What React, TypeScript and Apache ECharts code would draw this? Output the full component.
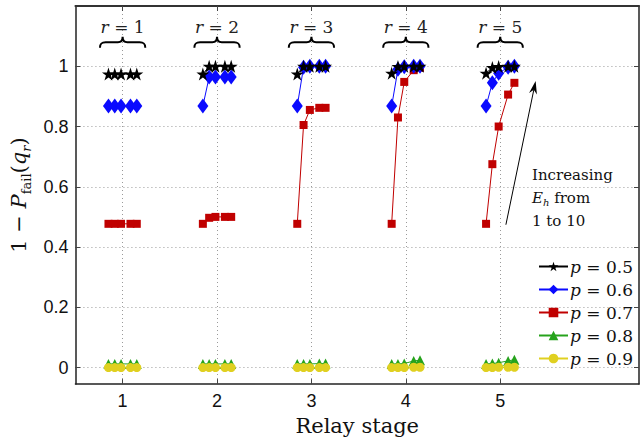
import React, { useEffect, useRef } from 'react';
import * as echarts from 'echarts';

// ---------------- data ----------------
const stages = [1, 2, 3, 4, 5];
const energyLevels = [1, 3, 5, 8, 10]; // E_h values plotted within each stage
const seriesNames = ['p = 0.5', 'p = 0.6', 'p = 0.7', 'p = 0.8', 'p = 0.9'];

const p05 = [
  [0.974, 0.974, 0.974, 0.974, 0.974],
  [0.974, 1.0, 1.0, 1.0, 1.0],
  [0.974, 1.0, 1.0, 1.0, 1.0],
  [0.977, 0.999, 1.0, 1.0, 1.0],
  [0.977, 0.996, 0.999, 1.0, 1.0],
];
const p06 = [
  [0.868, 0.868, 0.868, 0.868, 0.868],
  [0.868, 0.964, 0.964, 0.964, 0.964],
  [0.868, 0.997, 1.0, 1.0, 1.0],
  [0.868, 0.99, 0.998, 1.0, 1.0],
  [0.868, 0.945, 0.977, 0.997, 1.0],
];
const p07 = [
  [0.477, 0.477, 0.477, 0.477, 0.477],
  [0.477, 0.497, 0.5, 0.5, 0.5],
  [0.477, 0.805, 0.855, 0.862, 0.862],
  [0.477, 0.83, 0.948, 0.987, 0.995],
  [0.477, 0.675, 0.8, 0.906, 0.945],
];
const p08 = [
  [0.012, 0.012, 0.012, 0.012, 0.012],
  [0.012, 0.012, 0.012, 0.012, 0.012],
  [0.012, 0.012, 0.012, 0.013, 0.013],
  [0.012, 0.012, 0.013, 0.022, 0.024],
  [0.012, 0.013, 0.016, 0.022, 0.026],
];
const p09 = [
  [0.0, 0.0, 0.0, 0.0, 0.0],
  [0.0, 0.0, 0.0, 0.0, 0.0],
  [0.0, 0.0, 0.0, 0.0, 0.0],
  [0.0, 0.0, 0.0, 0.001, 0.001],
  [0.0, 0.0, 0.001, 0.001, 0.001],
];

const xTicks = [1, 2, 3, 4, 5];
const yTicks = [0, 0.2, 0.4, 0.6, 0.8, 1];
const arrowData = [[5.06, 0.474, 5.375, 0.951]];
const noteLines = ['Increasing', '{i|E}{s|h} from', '1 to 10'];

// ---------------- styles ----------------
const SERIF = '"DejaVu Serif", "Liberation Serif", serif';
const SANS = '"Liberation Sans", Arial, sans-serif';
const STAR =
  'path://M0,-10L2.245,-3.09L9.51,-3.09L3.633,1.18L5.878,8.09L0,3.82L-5.878,8.09L-3.633,1.18L-9.51,-3.09L-2.245,-3.09Z';

const styleFor = [
  { color: '#000000', symbol: STAR, symbolSize: 13 },
  { color: '#0a0aff', symbol: 'diamond', symbolSize: [11, 15] },
  { color: '#c00000', symbol: 'rect', symbolSize: 8 },
  { color: '#26a31c', symbol: 'triangle', symbolSize: 10 },
  { color: '#e0d020', symbol: 'circle', symbolSize: 9 },
];
const valuesFor = [p05, p06, p07, p08, p09];
const drawOrder = [3, 4, 2, 1, 0];

const BRACE_PATH =
  'M0,12 C0,7 2,6 6,6 L19,6 C22,6 24,4 24,0 C24,4 26,6 29,6 L42,6 C46,6 48,7 48,12';

export default function App() {
  const ref = useRef<HTMLDivElement>(null);

  useEffect(() => {
    if (!ref.current) return;
    const chart = echarts.init(ref.current, undefined, { renderer: 'svg' });

    const lineSeries: any[] = [];
    drawOrder.forEach((k) => {
      const st = styleFor[k];
      stages.forEach((s, si) => {
        lineSeries.push({
          type: 'line',
          name: seriesNames[k],
          data: energyLevels.map((e, i) => [s + (e - 5.5) / 30, valuesFor[k][si][i]]),
          symbol: st.symbol,
          symbolSize: st.symbolSize,
          showAllSymbol: true,
          itemStyle: { color: st.color },
          lineStyle: { color: st.color, width: 1 },
          silent: true,
        });
      });
    });

    const braceSeries = {
      type: 'custom',
      silent: true,
      data: stages.map((r) => [r, 1.08, 1.13]),
      renderItem: (params: any, api: any) => {
        const c = api.coord([api.value(0), api.value(1)]);
        const l = api.coord([api.value(0), api.value(2)]);
        const w = api.size([0.48, 0])[0];
        const h = 11;
        return {
          type: 'group',
          children: [
            {
              type: 'path',
              shape: { pathData: BRACE_PATH, x: c[0] - w / 2, y: c[1] - h / 2, width: w, height: h, layout: 'cover' },
              style: { stroke: '#000', fill: 'none', lineWidth: 2 },
            },
            {
              type: 'text',
              x: l[0],
              y: l[1],
              style: {
                text: '{i|r} = ' + api.value(0),
                fontFamily: SERIF,
                fontSize: 17,
                fill: '#222',
                align: 'center',
                verticalAlign: 'middle',
                rich: { i: { fontFamily: SERIF, fontSize: 17, fontStyle: 'italic', fill: '#222' } },
              },
            },
          ],
        };
      },
    };

    const arrowSeries = {
      type: 'custom',
      silent: true,
      data: arrowData,
      renderItem: (params: any, api: any) => {
        const a = api.coord([api.value(0), api.value(1)]);
        const b = api.coord([api.value(2), api.value(3)]);
        const dx = b[0] - a[0];
        const dy = b[1] - a[1];
        const L = Math.hypot(dx, dy);
        const ux = dx / L, uy = dy / L;
        const nx = -uy, ny = ux;
        const hl = 13, hw = 4, notch = 9;
        const bx = b[0] - ux * hl, by = b[1] - uy * hl;
        const mx = b[0] - ux * notch, my = b[1] - uy * notch;
        return {
          type: 'group',
          children: [
            { type: 'line', shape: { x1: a[0], y1: a[1], x2: mx, y2: my }, style: { stroke: '#000', lineWidth: 1 } },
            {
              type: 'polygon',
              shape: { points: [[b[0], b[1]], [bx + nx * hw, by + ny * hw], [mx, my], [bx - nx * hw, by - ny * hw]] },
              style: { fill: '#000' },
            },
          ],
        };
      },
    };

    const noteRich = {
      i: { fontFamily: SERIF, fontSize: 15, fontStyle: 'italic', fill: '#111', lineHeight: 20 },
      s: { fontFamily: SERIF, fontSize: 10, fontStyle: 'italic', fill: '#111', lineHeight: 10, verticalAlign: 'bottom' },
    };

    const axisLineStyle = { color: '#222', width: 1.5 };
    const tickStyle = { color: '#444', width: 1 };
    const gridLine = { show: true, lineStyle: { color: '#9a9a9a', width: 1, type: [1, 3] } };

    chart.setOption({
      animation: false,
      backgroundColor: '#ffffff',
      grid: { left: 70, right: 2, top: 6, bottom: 48, containLabel: false },
      xAxis: [
        {
          type: 'value',
          min: 0.5,
          max: 6.47,
          position: 'bottom',
          name: 'Relay stage',
          nameLocation: 'middle',
          nameGap: 19,
          nameTextStyle: { fontFamily: SERIF, fontSize: 21, color: '#111' },
          axisLine: { show: true, onZero: false, lineStyle: axisLineStyle },
          axisTick: { show: true, inside: true, length: 5, lineStyle: tickStyle, customValues: xTicks },
          axisLabel: { show: true, customValues: xTicks, fontFamily: SANS, fontSize: 18, color: '#111', margin: 8 },
          splitLine: gridLine,
        },
        {
          type: 'value',
          min: 0.5,
          max: 6.47,
          position: 'top',
          axisLine: { show: true, onZero: false, lineStyle: { color: '#333', width: 2 } },
          axisTick: { show: true, inside: true, length: 5, lineStyle: tickStyle, customValues: xTicks },
          axisLabel: { show: false },
          splitLine: { show: false },
        },
      ],
      yAxis: [
        {
          type: 'value',
          min: -0.055,
          max: 1.2,
          position: 'left',
          name: '{n|1 − }{i|P}{s|fail}{n|(}{i|q}{si|r}{n|)}',
          nameLocation: 'middle',
          nameRotate: 90,
          nameGap: 42,
          nameTextStyle: {
            rich: {
              n: { fontFamily: SERIF, fontSize: 21, color: '#111', lineHeight: 28 },
              i: { fontFamily: SERIF, fontSize: 21, fontStyle: 'italic', color: '#111', lineHeight: 28 },
              s: { fontFamily: SERIF, fontSize: 13, color: '#111', lineHeight: 14, verticalAlign: 'bottom' },
              si: { fontFamily: SERIF, fontSize: 13, fontStyle: 'italic', color: '#111', lineHeight: 14, verticalAlign: 'bottom' },
            },
          },
          axisLine: { show: true, onZero: false, lineStyle: axisLineStyle },
          axisTick: { show: true, inside: true, length: 5, lineStyle: tickStyle, customValues: yTicks },
          axisLabel: { show: true, customValues: yTicks, fontFamily: SANS, fontSize: 18, color: '#111', margin: 7 },
          splitLine: gridLine,
        },
        {
          type: 'value',
          min: -0.055,
          max: 1.2,
          position: 'right',
          axisLine: { show: true, onZero: false, lineStyle: axisLineStyle },
          axisTick: { show: true, inside: true, length: 5, lineStyle: tickStyle, customValues: yTicks },
          axisLabel: { show: false },
          splitLine: { show: false },
        },
      ],
      legend: {
        data: seriesNames,
        orient: 'vertical',
        left: 538,
        top: 258,
        padding: 0,
        itemWidth: 29,
        itemHeight: 12,
        itemGap: 6,
        selectedMode: false,
        formatter: (name: string) => '{i|p} = ' + name.slice(4),
        textStyle: {
          fontFamily: SERIF,
          fontSize: 17,
          color: '#111',
          lineHeight: 16,
          padding: [0, 0, 0, -3],
          rich: { i: { fontFamily: SERIF, fontSize: 17, fontStyle: 'italic', color: '#111', lineHeight: 16 } },
        },
      },
      graphic: noteLines.map((t, i) => ({
        type: 'text',
        left: 532,
        top: 167 + i * 23,
        silent: true,
        style: { text: t, fontFamily: SERIF, fontSize: 15, fill: '#111', rich: noteRich },
      })),
      series: [...lineSeries, braceSeries, arrowSeries],
    });

    return () => chart.dispose();
  }, []);

  return <div ref={ref} style={{ width: 641, height: 441, position: 'absolute', left: 0, top: 0 }} />;
}
